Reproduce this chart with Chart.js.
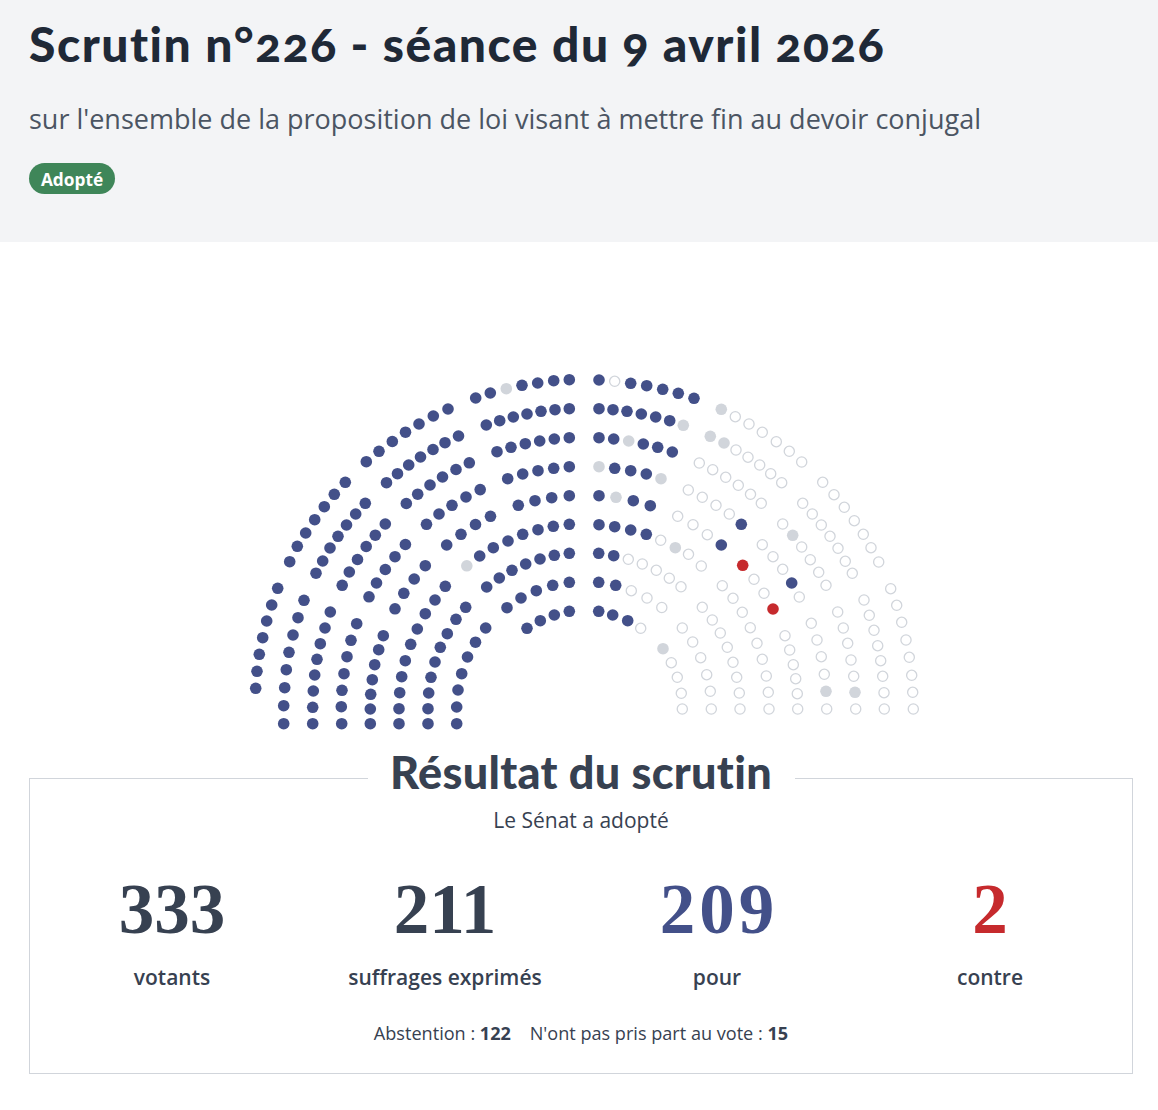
<!DOCTYPE html>
<html lang="fr">
<head>
<meta charset="utf-8">
<title>Scrutin n°226</title>
<script src="https://cdn.jsdelivr.net/npm/chart.js@4"></script>
<style>
  html, body { margin: 0; background: #fff; }
  body { width: 1158px; height: 1110px; position: relative; overflow: hidden; font-family: "Open Sans", sans-serif; color: #374151; }
  #header { position: absolute; left: 0; top: 0; width: 1158px; height: 242px; background: #f3f4f6; }
  .t { position: absolute; white-space: nowrap; line-height: 1; }
  .c { transform: translateX(-50%); }
  h1, h2 { margin: 0; font-family: Lato, sans-serif; font-weight: 900; font-variant-ligatures: none; font-variant-numeric: oldstyle-nums; }
  #title { left: 29px; top: 20px; font-size: 48px; letter-spacing: 1.5px; color: #1f2937; }
  #subtitle { left: 29px; top: 105px; font-size: 27px; color: #4b5563; }
  #badge { position: absolute; left: 29px; top: 163px; width: 86px; height: 31px; border-radius: 16px; background: #3f8659; color: #fff; font-weight: 700; font-size: 17.3px; line-height: 33px; text-align: center; }
  #box { position: absolute; left: 29px; top: 778px; width: 1102px; height: 294px; border: 1px solid #d1d5db; }
  #legendGap { position: absolute; left: 368px; top: 770px; width: 427px; height: 16px; background: #fff; }
  #heading { left: 581px; top: 750px; font-size: 45px; letter-spacing: 0.3px; color: #374151; }
  #verdict { left: 581px; top: 810px; font-size: 21px; }
  .num { top: 874px; font-family: "Liberation Serif", serif; font-weight: 700; font-size: 71px; }
  .lab { top: 967px; font-size: 21px; font-weight: 600; }
  #foot { left: 581px; top: 1024px; font-size: 18.1px; }
  #foot b { font-weight: 700; }
  #hemicycle { position: absolute; left: 240px; top: 370px; }
</style>
</head>
<body>
<div id="header"></div>
<h1 class="t" id="title">Scrutin n°226 - séance du 9 avril 2026</h1>
<div class="t" id="subtitle">sur l'ensemble de la proposition de loi visant à mettre fin au devoir conjugal</div>
<div id="badge">Adopté</div>

<canvas id="hemicycle" width="690" height="365"></canvas>

<div id="box"></div>
<div id="legendGap"></div>
<h2 class="t c" id="heading">Résultat du scrutin</h2>
<div class="t c" id="verdict">Le Sénat a adopté</div>
<div class="t c num" style="left:172px">333</div>
<div class="t c num" style="left:445px">211</div>
<div class="t c num" style="left:719px;color:#435089;letter-spacing:4px">209</div>
<div class="t c num" style="left:990px;color:#c62a2d">2</div>
<div class="t c lab" style="left:172px">votants</div>
<div class="t c lab" style="left:445px">suffrages exprimés</div>
<div class="t c lab" style="left:717px">pour</div>
<div class="t c lab" style="left:990px">contre</div>
<div class="t c" id="foot">Abstention : <b>122</b> &nbsp;&nbsp;&nbsp;N'ont pas pris part au vote : <b>15</b></div>

<script>
// seats, one row per line, [x, y]
const pourSeats = [
  [475.7,398],[490.3,393],[522,385.3],[537.7,383],[553.7,380.7],[569.3,379.7],
  [486.3,425],[499.7,420.7],[513.3,417],[527,414],[541,411.3],[555,409.7],[569.3,408.7],
  [497,451.7],[511,447.3],[525.3,443.7],[539.7,441],[554.3,439],[569.3,437.7],
  [507.7,478.7],[522.7,474],[538,470.7],[553.7,468.3],[569.3,466.7],
  [518.3,505.3],[535,500.7],[551.7,497.7],[569.3,495.7],
  [479.7,556],[493.3,547.7],[508,541],[522.7,534.3],[538,529.7],[553.3,526.3],[569.3,524.3],
  [486.7,587],[499.3,578],[512,570.3],[525.7,564],[540,559],[554.3,555.3],[569.3,553.3],
  [507,607.7],[521,598],[536.3,590.7],[552.7,585.3],[569.3,582.3],
  [527,628.3],[540.3,620.7],[554.3,615],[569.3,611.3],
  [366.3,461.7],[379,451.3],[392.3,441.5],[405.5,432.2],[419,424],[433.3,416],[448,409],
  [386.5,482.7],[397.5,473.7],[408.7,465],[420.5,457],[433,449.5],[445,442.7],[458.5,436],
  [406.3,503.5],[417.7,494.2],[430,485],[442.5,477],[456,469.5],[469.3,462.8],
  [426.5,524.3],[439,514],[452,505.3],[466,497],[480.2,489.6],
  [446.7,545],[461,534.3],[475.5,524.5],[490.5,516.3],
  [345.3,482.3],[334.3,494.3],[324.3,506.7],[314.7,519.7],[305.7,533],[297.3,546.3],[289.7,561.7],
  [365.3,503.3],[355.7,514],[346.5,525],[338,536.3],[330,548],[322.7,561],[316,573.2],
  [385.3,524],[375.3,535.2],[366.2,546.5],[357.5,559.5],[349.3,572],[342.2,585.3],
  [405.4,544.5],[395,556.7],[385.3,569.5],[376.5,583],[369,596.8],
  [425.3,565.7],[414.2,579],[403.8,593.3],[395,608.8],
  [445.3,586.3],[435,600],[425.3,613.7],[417.3,629],[410.7,644.3],[405.3,660.7],[401.7,676.7],[399.7,692.7],[399,708.7],[399,723.7],
  [465.7,607.3],[456,619.3],[447.3,633.7],[440.3,647.3],[435,662],[431,677.3],[428.7,693],[428,708.7],[428,723.7],
  [485.7,628],[475.5,642.2],[467.5,657],[461.7,673.7],[458,690],[456.7,707],[456.7,723.7],
  [277.7,588.3],[271.7,605],[266.7,621],[262.7,637.7],[259.3,654.3],[257,671.3],[255.7,688.3],
  [304,600.3],[298,617.7],[293,635],[289,652.3],[286.3,669.7],[284.7,687.7],[283.7,705.7],[283.7,723.7],
  [330.3,612],[325,628],[320.3,643.7],[317,659.3],[314.7,675],[313.3,691],[312.7,707.3],[312.7,723.7],
  [356.7,623.7],[351,640.3],[347,656.7],[344,673.7],[342,690.3],[341.3,706.7],[341.7,723.7],
  [383.3,635.7],[378.7,649.7],[374.7,664.7],[372.3,679.7],[370.7,694.3],[370.3,709],[370.3,723.7],
  [599,380],[630.7,383.3],[646.7,385.7],[662.7,389.3],[678.3,393.3],[694,398.3],
  [599,408.7],[613,409.7],[627,411.3],[641.3,414],[655.7,417],[669.7,420.7],
  [599,437.7],[613.7,439],[643.3,444],[657.7,447.3],[672.3,452],
  [614.7,468.3],[630.7,470.7],[646.3,474],
  [599,495.7],[633.3,500.7],[650.3,505.7],
  [599,524.7],[614.7,526.7],[630.7,530],[646.3,534.3],
  [598.7,553.3],[613.7,555.7],
  [598.7,582.3],[615.7,585.3],
  [598.7,611.3],[612.7,615],[627.7,620.7],
  [741.3,524.3],[721.3,545],[791.7,583]
];
const contreSeats = [[742.7,565.3],[773,609]];
const nonVotantSeats = [
  [506.3,388.7],[466.8,565.8],[683.3,425.3],[628.7,441],[599,466.7],[661,478.7],[616,497.3],
  [675.3,547.7],[721.3,409.3],[710.3,436.3],[724,443],[792.7,535.3],[663,648.7],[826,691.3],[855,692.3]
];
const abstentionSeats = [
  [614.7,381.3],
  [735.3,416.7],[749,424],[762.3,432.3],[776.3,441.7],[789.3,451.3],[801.7,462],
  [736,450],[748,457.2],[759.7,465],[770.7,473.7],[781.7,482.7],
  [699.3,463],[712.7,469.7],[725.7,477.3],[738.3,485.3],[750.5,494.3],[761.3,503.3],
  [688.3,490],[702.3,497.3],[716,505.3],[729.3,514],
  [677.7,516.3],[693,524.7],[707.3,534.7],
  [660.7,540.3],[688.5,554.3],[701.3,566],
  [628.3,559.3],[642.3,564],[656.3,570.3],[669.3,578.2],[681,586.8],
  [631.3,590.7],[647,598],[661.8,607.5],
  [640.7,628.3],
  [754,579.3],[764,593.3],
  [722.3,585.7],[733,598.3],[742.3,612.3],[750.3,627.7],[757,643.3],[762.3,659.3],[766.3,676],[768.3,692.3],[769,709],
  [702.3,607.3],[712.3,620],[720.3,633],[727.3,647.3],[733,662.3],[736.7,677.3],[739.3,693],[740,709],
  [682.3,628],[692.7,642],[700.7,657.7],[706.7,674.7],[710.3,691.3],[711.3,709],
  [671.3,662.7],[677.3,677.3],[681.3,693.3],[682.3,709],
  [785,635.7],[789.7,650],[793.3,664.7],[795.7,678.7],[797.3,693.7],[797.7,709],
  [811.3,623.3],[817,640],[821.3,656.7],[824.3,674.3],[826.7,709],
  [837.7,612],[843.3,628],[847.7,643.3],[851,660],[853.7,676.3],[855.7,709],
  [864,600],[869.3,615.3],[874,630.3],[877.7,645.7],[880.7,660.7],[882.7,676.3],[884,692.7],[884.3,709],
  [890.7,588.7],[896.7,605.3],[901.7,622.3],[906,640],[909.3,657.3],[911.7,675.3],[912.7,692.3],[913.3,709],
  [762.3,544.7],[773,556.7],[782.7,569.3],[799.3,597],
  [782.7,524],[801.7,547],[810.3,559.7],[818.7,572.3],[826,585.3],
  [802.7,503.3],[812.3,514],[821.3,525],[830,536.3],[838,548.3],[845.3,561.3],[852.3,573.3],
  [822.7,482.3],[834,494.7],[844.3,507.3],[854.3,520.7],[863.3,534.3],[871,547.7],[878.7,562]
];

const toPoints = seats => seats.map(s => ({ x: s[0], y: s[1] }));

new Chart(document.getElementById('hemicycle').getContext('2d'), {
  type: 'scatter',
  data: {
    datasets: [
      { label: 'Pour', data: toPoints(pourSeats), backgroundColor: '#435089', borderWidth: 0, pointRadius: 5.8 },
      { label: 'Contre', data: toPoints(contreSeats), backgroundColor: '#c62a2d', borderWidth: 0, pointRadius: 5.8 },
      { label: "N'ont pas pris part au vote", data: toPoints(nonVotantSeats), backgroundColor: '#d1d5db', borderWidth: 0, pointRadius: 5.8 },
      { label: 'Abstention', data: toPoints(abstentionSeats), backgroundColor: '#fff', borderColor: '#d1d5db', borderWidth: 1.3, pointRadius: 5.1 }
    ]
  },
  options: {
    responsive: false,
    animation: false,
    layout: { padding: 0, autoPadding: false },
    plugins: { legend: { display: false }, tooltip: { enabled: false } },
    scales: {
      x: { type: 'linear', min: 240, max: 930, display: false },
      y: { type: 'linear', min: 370, max: 735, reverse: true, display: false }
    }
  }
});
</script>
</body>
</html>
